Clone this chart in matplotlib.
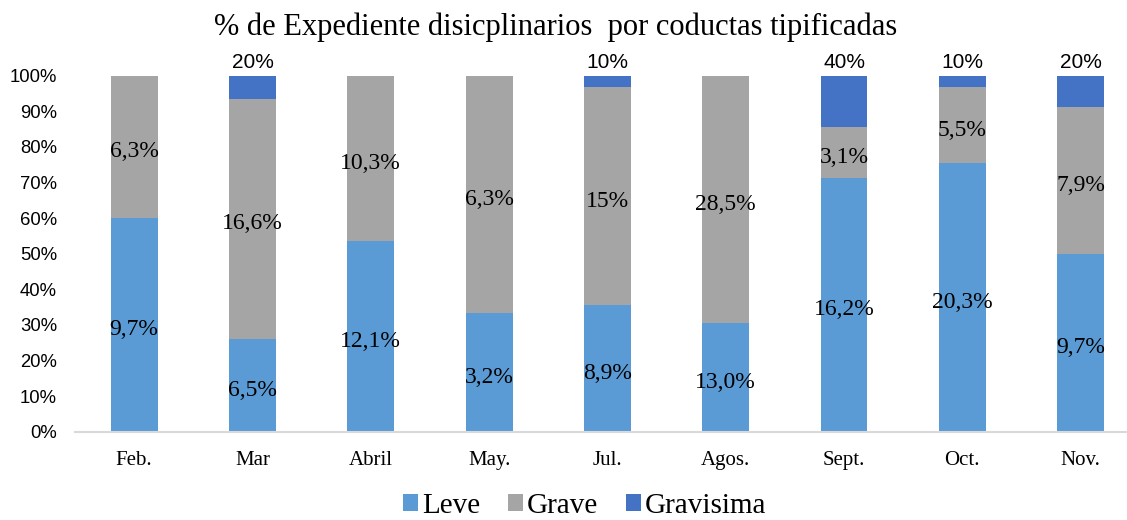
import matplotlib.pyplot as plt

categories = ['Feb.', 'Mar', 'Abril', 'May.', 'Jul.', 'Agos.', 'Sept.', 'Oct.', 'Nov.']
leve_share = [60.1, 26.0, 53.6, 33.4, 35.6, 30.6, 71.3, 75.5, 49.9]
grave_share = [39.9, 67.5, 46.4, 66.6, 61.1, 69.4, 14.2, 21.2, 41.4]
gravisima_share = [0, 6.5, 0, 0, 3.3, 0, 14.5, 3.3, 8.7]

leve_labels = ['9,7%', '6,5%', '12,1%', '3,2%', '8,9%', '13,0%', '16,2%', '20,3%', '9,7%']
grave_labels = ['6,3%', '16,6%', '10,3%', '6,3%', '15%', '28,5%', '3,1%', '5,5%', '7,9%']
gravisima_labels = ['', '20%', '', '', '10%', '', '40%', '10%', '20%']

SERIF = 'Liberation Serif'
SANS = 'Liberation Sans'
c_leve, c_grave, c_gravisima = '#5B9BD5', '#A5A5A5', '#4472C4'


def main():
    fig = plt.figure(figsize=(11.27, 5.2), dpi=100)
    ax = fig.add_axes([75 / 1127, 88.3 / 520, 1052 / 1127, 356 / 520])

    x = range(len(categories))
    w = 0.397
    b1 = ax.bar(x, leve_share, w, color=c_leve, label='Leve')
    bottom2 = leve_share
    b2 = ax.bar(x, grave_share, w, bottom=bottom2, color=c_grave, label='Grave')
    bottom3 = [a + b for a, b in zip(leve_share, grave_share)]
    b3 = ax.bar(x, gravisima_share, w, bottom=bottom3, color=c_gravisima, label='Gravisima')

    # etiquetas centradas en cada tramo, algo bajadas como en Excel
    for i in x:
        ax.annotate(leve_labels[i], (i, leve_share[i] / 2), xytext=(0, -3.5),
                    textcoords='offset points', ha='center', va='center',
                    family=SERIF, fontsize=17)
        ax.annotate(grave_labels[i], (i, bottom2[i] + grave_share[i] / 2), xytext=(0, -3.5),
                    textcoords='offset points', ha='center', va='center',
                    family=SERIF, fontsize=17)
        if gravisima_labels[i]:
            ax.annotate(gravisima_labels[i], (i, bottom3[i] + gravisima_share[i]), xytext=(0, 2.5),
                        textcoords='offset points', ha='center', va='bottom',
                        family=SANS, fontsize=15)

    ax.set_xlim(-0.5, 8.392)
    ax.set_ylim(0, 100)
    ax.set_yticks(range(0, 101, 10))
    ax.set_yticklabels([f'{v}%' for v in range(0, 101, 10)], family=SANS, fontsize=13.3)
    ax.set_xticks(list(x))
    ax.set_xticklabels(categories, family=SERIF, fontsize=15)
    ax.tick_params(axis='y', length=0, pad=13)
    ax.tick_params(axis='x', length=0, pad=14)
    for s in ['top', 'right', 'left']:
        ax.spines[s].set_visible(False)
    ax.spines['bottom'].set_color('#D9D9D9')
    ax.spines['bottom'].set_linewidth(1.5)

    fig.text(556 / 1127, 1 - 27 / 520, '% de Expediente disicplinarios  por coductas tipificadas',
             ha='center', va='center', family=SERIF, fontsize=22)

    fig.legend(handles=[b1, b2, b3], loc='center', bbox_to_anchor=(585 / 1127, 14 / 520),
               ncol=3, frameon=False, prop={'family': SERIF, 'size': 21},
               handlelength=0.5, handleheight=0.5, handletextpad=0.15, columnspacing=0.95,
               borderpad=0.1)

    fig.savefig('out.png', dpi=100)


if __name__ == "__main__":  main()
